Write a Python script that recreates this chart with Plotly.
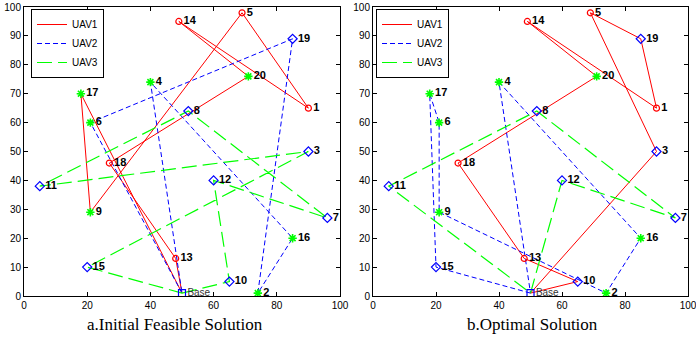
import plotly.graph_objects as go

# ---- data ----
node_names = ["1", "2", "3", "4", "5", "6", "7", "8", "9", "10",
              "11", "12", "13", "14", "15", "16", "17", "18", "19", "20", "Base"]
node_x = [90, 74, 90, 40, 69, 21, 96, 52, 21, 65, 5, 60, 48, 49, 20, 85, 18, 27, 85, 71, 50]
node_y = [65, 1, 50, 74, 98, 60, 27, 64, 29, 5, 38, 40, 13, 95, 10, 20, 70, 46, 89, 76, 1]

circle_nodes = ["1", "5", "13", "14", "18"]
diamond_nodes = ["3", "7", "8", "10", "11", "12", "15", "19"]
star_nodes = ["2", "4", "6", "9", "16", "17", "20"]

init_uav1 = ["Base", "17", "9", "5", "1", "14", "20", "18", "13", "Base"]
init_uav2 = ["Base", "6", "19", "2", "16", "4", "Base"]
init_uav3 = ["Base", "10", "12", "7", "8", "11", "3", "15", "Base"]

opt_uav1 = ["Base", "10", "13", "18", "20", "14", "1", "19", "5", "3", "Base"]
opt_uav2 = ["Base", "15", "17", "6", "9", "2", "16", "4", "Base"]
opt_uav3 = ["Base", "12", "7", "8", "11", "Base"]

uav_names = ["UAV1", "UAV2", "UAV3"]
titles = ["a.Initial Feasible Solution", "b.Optimal Solution"]

pos = {n: (x, y) for n, x, y in zip(node_names, node_x, node_y)}

RED, BLUE, GREEN = "#ff0000", "#0000ff", "#00ff00"
styles = [dict(color=RED, width=1, dash="solid"),
          dict(color=BLUE, width=1, dash="5px,3px"),
          dict(color=GREEN, width=1.2, dash="15px,6px")]

fig = go.Figure()

panels = [(1, [init_uav1, init_uav2, init_uav3], "legend"),
          (2, [opt_uav1, opt_uav2, opt_uav3], "legend2")]

for idx, routes, leg in panels:
    xa = "x" if idx == 1 else "x2"
    ya = "y" if idx == 1 else "y2"
    for name, route, st in zip(uav_names, routes, styles):
        fig.add_trace(go.Scatter(
            x=[pos[n][0] for n in route], y=[pos[n][1] for n in route],
            mode="lines", line=st, name=name, xaxis=xa, yaxis=ya,
            legend=leg, showlegend=True))
    # markers
    for nodes, sym, col, sz, lw in [(circle_nodes, "circle-open", RED, 6, 1.2),
                                    (diamond_nodes, "diamond-open", BLUE, 7, 1.2),
                                    (star_nodes, "asterisk-open", GREEN, 7, 1.6)]:
        fig.add_trace(go.Scatter(
            x=[pos[n][0] for n in nodes], y=[pos[n][1] for n in nodes],
            mode="markers+text", text=nodes, textposition="middle right",
            textfont=dict(family="Liberation Sans", size=11, color="black", weight="bold"),
            marker=dict(symbol=sym, size=sz, color=col, line=dict(color=col, width=lw)),
            xaxis=xa, yaxis=ya, showlegend=False, hoverinfo="skip"))
    fig.add_trace(go.Scatter(
        x=[pos["Base"][0]], y=[pos["Base"][1]], mode="markers+text",
        text=["Base"], textposition="middle right",
        textfont=dict(family="Liberation Sans", size=10, color="#333333"),
        marker=dict(symbol="square-open", size=7, color=BLUE, line=dict(color=BLUE, width=1.2)),
        xaxis=xa, yaxis=ya, showlegend=False, hoverinfo="skip"))

axis_common = dict(range=[0, 100], showgrid=False, zeroline=False, showline=True,
                   linecolor="black", linewidth=1, mirror="ticks", ticks="inside",
                   ticklen=4, tickcolor="black", automargin=False,
                   ticklabeloverflow="allow",
                   tickfont=dict(family="Liberation Sans", size=10, color="black"))

ydom = [1 - 296 / 337, 1 - 7 / 337]
legend_common = dict(xanchor="left", yanchor="top",
                     bgcolor="white", bordercolor="black", borderwidth=1,
                     font=dict(family="Liberation Sans", size=10, color="black"),
                     tracegroupgap=0, itemwidth=30)
fig.update_layout(
    width=696, height=337, margin=dict(l=0, r=0, t=0, b=0),
    paper_bgcolor="white", plot_bgcolor="white",
    xaxis=dict(domain=[24 / 696, 340 / 696], dtick=20, anchor="y", **axis_common),
    yaxis=dict(domain=ydom, dtick=10, anchor="x", **axis_common),
    xaxis2=dict(domain=[373 / 696, 688 / 696], dtick=20, anchor="y2", **axis_common),
    yaxis2=dict(domain=ydom, dtick=10, anchor="x2", **axis_common),
    legend=dict(x=31 / 696, y=1 - 9 / 337, **legend_common),
    legend2=dict(x=376 / 696, y=1 - 9 / 337, **legend_common),
    showlegend=True,
)

for cx, t in zip([175 / 696, 532 / 696], titles):
    fig.add_annotation(x=cx, y=1 - 324 / 337, xref="paper", yref="paper",
                       text=t, showarrow=False, xanchor="center", yanchor="middle",
                       font=dict(family="Liberation Serif", size=17, color="black"))

fig.write_html("out.html", config={"displayModeBar": False},
               post_script="document.body.style.margin='0';document.body.style.overflow='hidden';")
